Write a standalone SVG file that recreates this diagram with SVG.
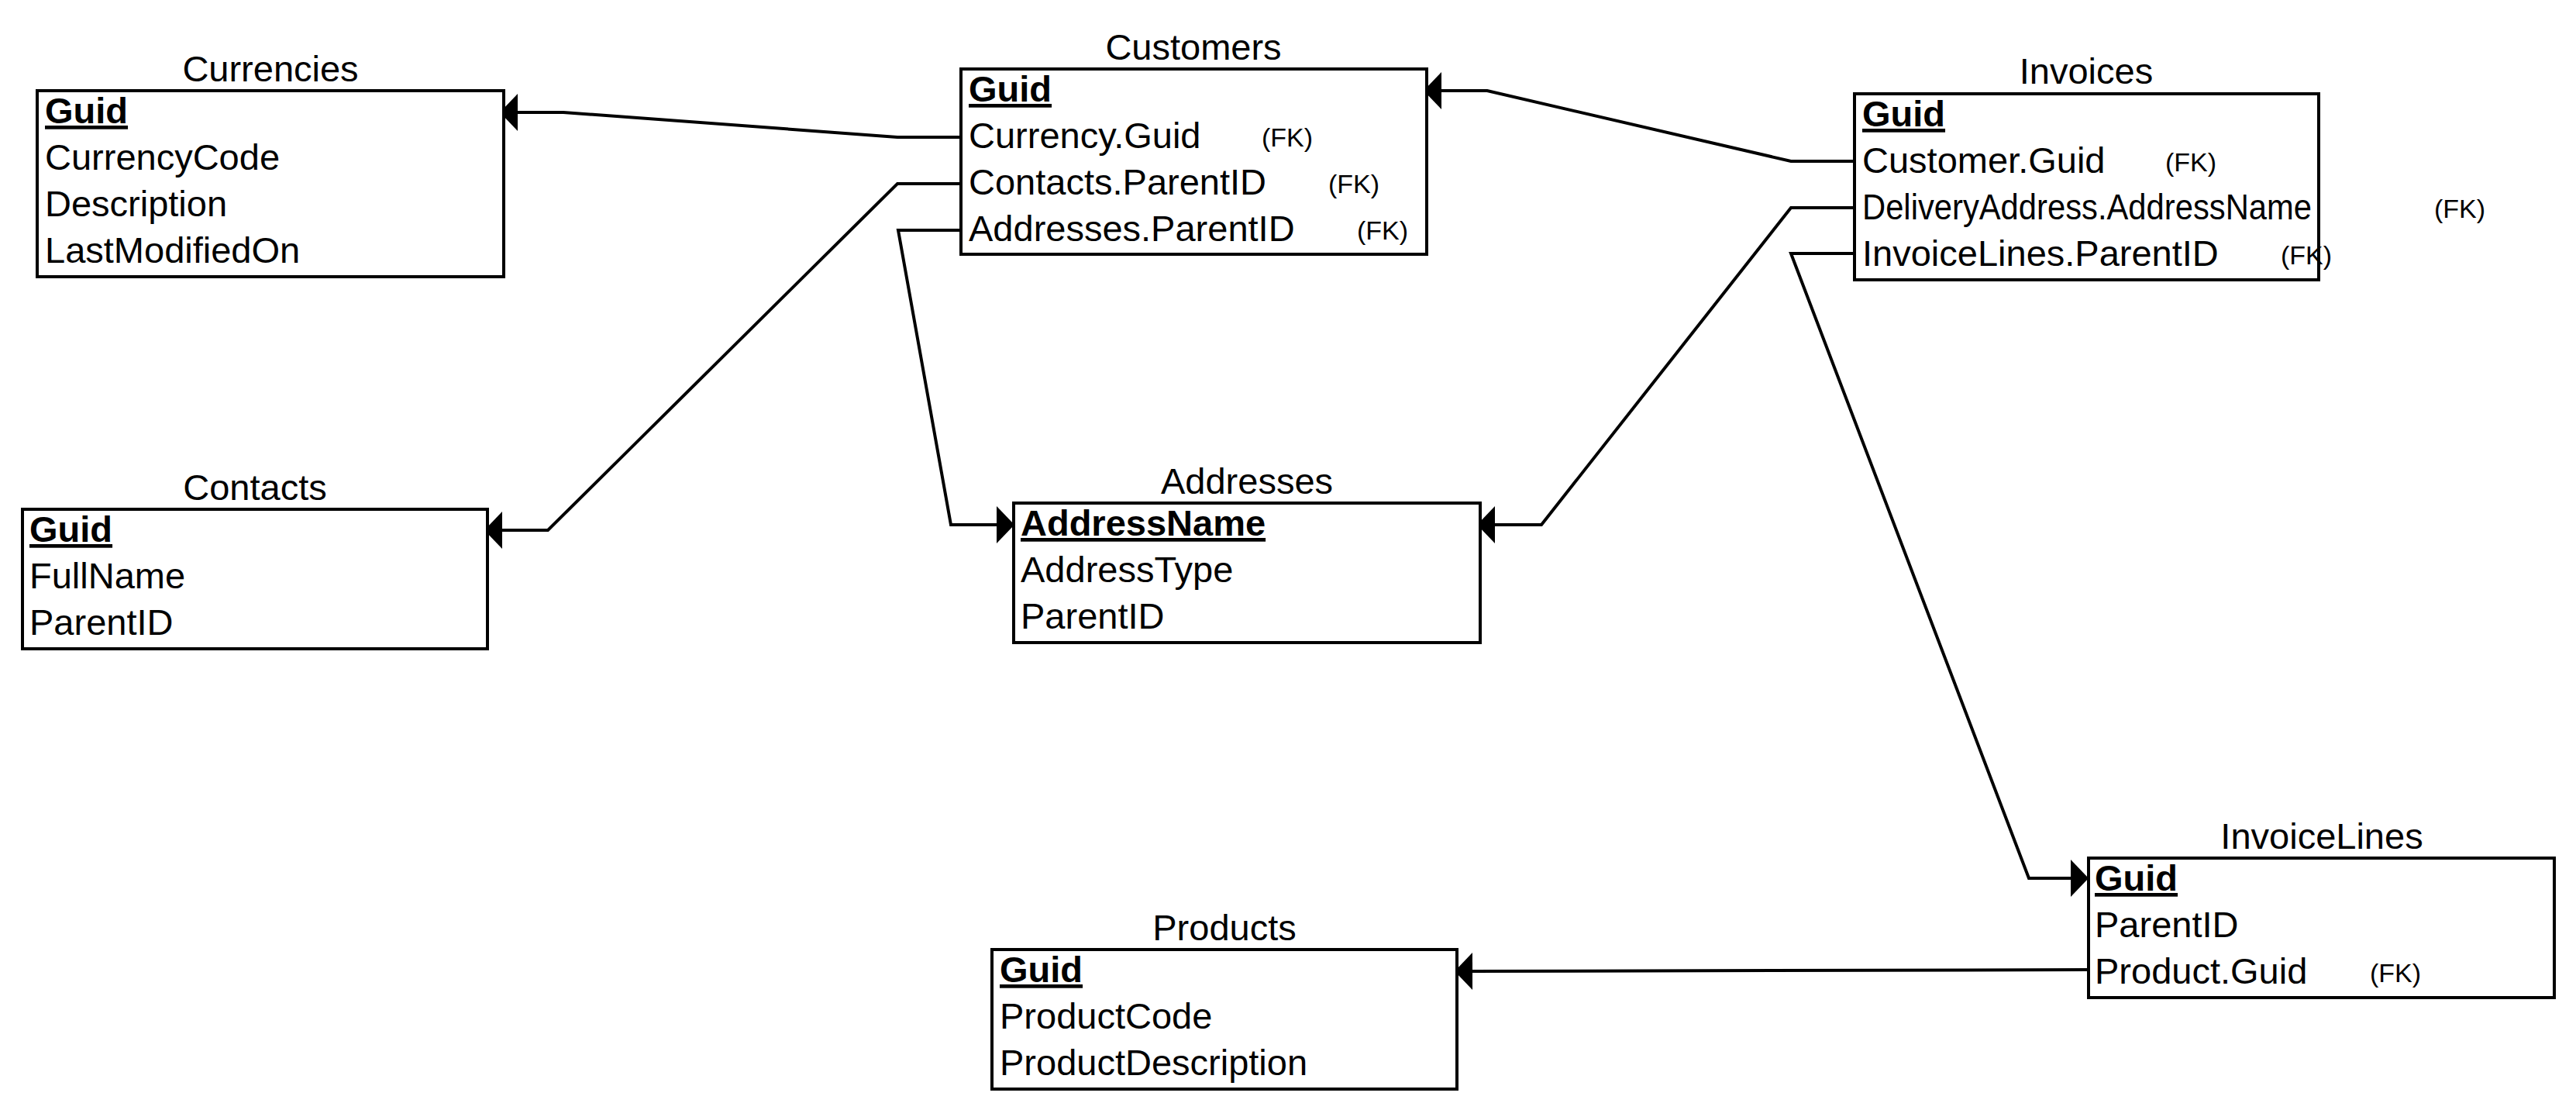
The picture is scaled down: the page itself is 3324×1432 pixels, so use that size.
<svg xmlns="http://www.w3.org/2000/svg" width="3324" height="1432" viewBox="0 0 3324 1432">
<style>
  text { font-family: "Liberation Sans", Arial, sans-serif; fill: #000; }
  .title { font-size: 47px; text-anchor: middle; }
  .row { font-size: 47px; }
  .pk { font-size: 47px; font-weight: bold; text-decoration: underline; text-decoration-thickness: 4px; text-underline-offset: 8px; }
  .fk { font-size: 34px; }
  .box { fill: #fff; stroke: #000; stroke-width: 4; }
  .conn { fill: none; stroke: #000; stroke-width: 4; marker-start: url(#arrow); }
</style>
<defs>
  <marker id="arrow" markerUnits="userSpaceOnUse" viewBox="0 -24 23 48" refX="23" refY="0" markerWidth="23" markerHeight="48" orient="auto">
    <path d="M0,0 L23,-24 L23,24 Z" fill="#000"/>
  </marker>
</defs>
<rect width="3324" height="1432" fill="#fff"/>

<g id="connectors">
  <path class="conn" d="M668,145 L727,145 L1158,177 L1240,177"/>
  <path class="conn" d="M648,684 L707,684 L1158,237 L1240,237"/>
  <path class="conn" d="M1286,677 L1227,677 L1159,297 L1240,297"/>
  <path class="conn" d="M1860,117 L1919,117 L2311,208 L2393,208"/>
  <path class="conn" d="M1929,677 L1989,677 L2311,268 L2393,268"/>
  <path class="conn" d="M2672,1133 L2618,1133 L2311,327 L2393,327"/>
  <path class="conn" d="M1900,1253 L2695,1251"/>
</g>

<g id="currencies">
  <text class="title" x="349" y="105">Currencies</text>
  <rect class="box" x="48" y="117" width="602" height="240"/>
  <text class="pk" x="58" y="159">Guid</text>
  <text class="row" x="58" y="219">CurrencyCode</text>
  <text class="row" x="58" y="279">Description</text>
  <text class="row" x="58" y="339">LastModifiedOn</text>
</g>

<g id="customers">
  <text class="title" x="1540" y="77">Customers</text>
  <rect class="box" x="1240" y="89" width="601" height="239"/>
  <text class="pk" x="1250" y="131">Guid</text>
  <text class="row" x="1250" y="191">Currency.Guid</text>
  <text class="fk" x="1628" y="189">(FK)</text>
  <text class="row" x="1250" y="251">Contacts.ParentID</text>
  <text class="fk" x="1714" y="249">(FK)</text>
  <text class="row" x="1250" y="311">Addresses.ParentID</text>
  <text class="fk" x="1751" y="309">(FK)</text>
</g>

<g id="invoices">
  <text class="title" x="2692" y="108">Invoices</text>
  <rect class="box" x="2393" y="121" width="599" height="240"/>
  <text class="pk" x="2403" y="163">Guid</text>
  <text class="row" x="2403" y="223">Customer.Guid</text>
  <text class="fk" x="2794" y="221">(FK)</text>
  <text class="row" x="2403" y="283" textLength="580" lengthAdjust="spacingAndGlyphs">DeliveryAddress.AddressName</text>
  <text class="fk" x="3141" y="281">(FK)</text>
  <text class="row" x="2403" y="343">InvoiceLines.ParentID</text>
  <text class="fk" x="2943" y="341">(FK)</text>
</g>

<g id="contacts">
  <text class="title" x="329" y="645">Contacts</text>
  <rect class="box" x="29" y="657" width="600" height="180"/>
  <text class="pk" x="38" y="699">Guid</text>
  <text class="row" x="38" y="759">FullName</text>
  <text class="row" x="38" y="819">ParentID</text>
</g>

<g id="addresses">
  <text class="title" x="1609" y="637">Addresses</text>
  <rect class="box" x="1308" y="649" width="602" height="180"/>
  <text class="pk" x="1317" y="691">AddressName</text>
  <text class="row" x="1317" y="751">AddressType</text>
  <text class="row" x="1317" y="811">ParentID</text>
</g>

<g id="products">
  <text class="title" x="1580" y="1213">Products</text>
  <rect class="box" x="1280" y="1225" width="600" height="180"/>
  <text class="pk" x="1290" y="1267">Guid</text>
  <text class="row" x="1290" y="1327">ProductCode</text>
  <text class="row" x="1290" y="1387">ProductDescription</text>
</g>

<g id="invoicelines">
  <text class="title" x="2996" y="1095">InvoiceLines</text>
  <rect class="box" x="2695" y="1107" width="601" height="180"/>
  <text class="pk" x="2703" y="1149">Guid</text>
  <text class="row" x="2703" y="1209">ParentID</text>
  <text class="row" x="2703" y="1269">Product.Guid</text>
  <text class="fk" x="3058" y="1267">(FK)</text>
</g>
</svg>
